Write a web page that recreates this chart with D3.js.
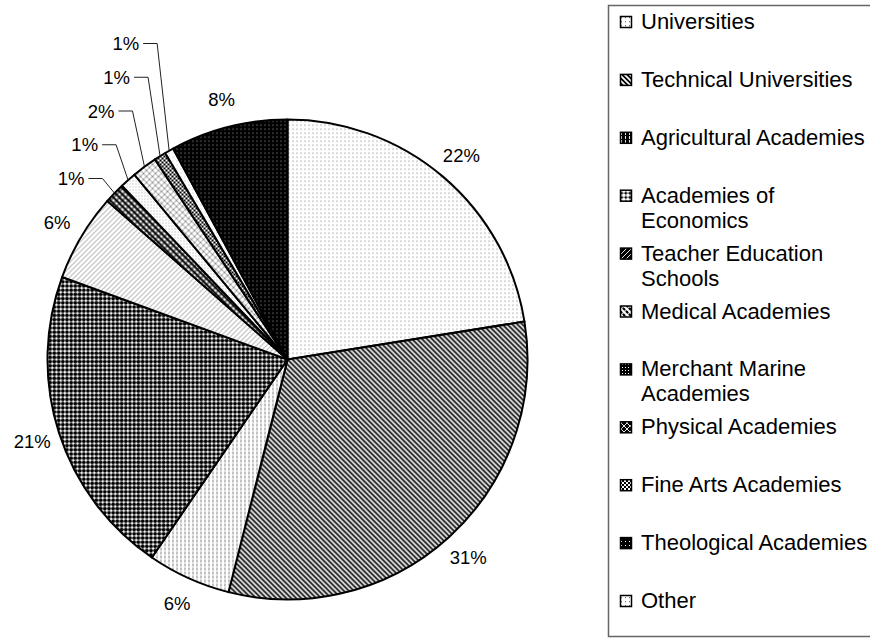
<!DOCTYPE html>
<html>
<head>
<meta charset="utf-8">
<script src="https://cdnjs.cloudflare.com/ajax/libs/d3/7.8.5/d3.min.js"></script>
<style>
  html, body { margin: 0; padding: 0; background: #fff; }
  svg { display: block; font-family: "Liberation Sans", Arial, Helvetica, sans-serif; }
</style>
</head>
<body>
<svg id="chart" width="870" height="638"></svg>
<script>
// ---- data ----
const categories = [
  "Universities",
  "Technical Universities",
  "Agricultural Academies",
  "Academies of Economics",
  "Teacher Education Schools",
  "Medical Academies",
  "Merchant Marine Academies",
  "Physical Academies",
  "Fine Arts Academies",
  "Theological Academies",
  "Other"
];
const values = [22.45, 31.45, 5.6, 21.0, 5.9, 1.4, 1.1, 1.7, 0.8, 0.6, 7.9];
const patternKeys = ["uni", "tech", "agri", "econ", "teach", "med", "mar", "phys", "fine", "theo", "other"];
const darkIcon = [false, true, true, true, true, true, true, true, true, true, false];

// ---- layout ----
const cx = 287.5, cy = 359.5, R = 240;
const svg = d3.select("#chart");
const defs = svg.append("defs");

function pat(id, w, h, bg, draw) {
  const p = defs.append("pattern").attr("id", id)
    .attr("patternUnits", "userSpaceOnUse").attr("width", w).attr("height", h);
  p.append("rect").attr("width", w).attr("height", h).attr("fill", bg);
  draw(p);
}
const drawers = {
  uni:   [4, 4, (p, fg) => p.append("rect").attr("x", 1).attr("y", 1).attr("width", 1).attr("height", 1.3).attr("fill", fg)],
  tech:  [5, 5, (p, fg) => p.append("path").attr("d", "M0,0L5,5M-1,4L1,6M4,-1L6,1").attr("stroke", fg).attr("stroke-width", 1.7)],
  agri:  [4, 4, (p, fg) => p.append("rect").attr("x", 1).attr("y", 0).attr("width", 0.9).attr("height", 3).attr("fill", fg)],
  econ:  [4.2, 4.2, (p, fg) => p.append("circle").attr("cx", 2.1).attr("cy", 2.1).attr("r", 1.9).attr("fill", fg)],
  teach: [5, 5, (p, fg) => p.append("path").attr("d", "M0,5L5,0M-1,1L1,-1M4,6L6,4").attr("stroke", fg).attr("stroke-width", 0.9)],
  med:   [6, 6, (p, fg) => {
            p.append("path").attr("d", "M0,0L6,6M-1,5L1,7M5,-1L7,1").attr("stroke", fg).attr("stroke-width", 2);
            p.append("path").attr("d", "M0,6L6,0M-1,1L1,-1M5,7L7,5").attr("stroke", fg).attr("stroke-width", 1.4).attr("opacity", 0.75);
          }],
  mar:   [3, 3, (p, fg) => p.append("rect").attr("x", 1).attr("y", 1).attr("width", 1).attr("height", 1).attr("fill", fg)],
  phys:  [6, 6, (p, fg) => p.append("path").attr("d", "M0,0L6,6M0,6L6,0").attr("stroke", fg).attr("stroke-width", 0.9)],
  fine:  [4, 4, (p, fg) => {
            p.append("rect").attr("x", 0).attr("y", 0).attr("width", 2).attr("height", 2).attr("fill", fg);
            p.append("rect").attr("x", 2).attr("y", 2).attr("width", 2).attr("height", 2).attr("fill", fg);
          }],
  theo:  [4, 4, (p, fg) => p.append("rect").attr("x", 1).attr("y", 1).attr("width", 1).attr("height", 1).attr("fill", fg)],
  other: [4, 4, (p, fg) => p.append("rect").attr("x", 1).attr("y", 1).attr("width", 1).attr("height", 1.2).attr("fill", fg)]
};
const sliceColors = {
  uni: ["#8a8a8a", "#fff"], tech: ["#000", "#fff"], agri: ["#777", "#fff"], econ: ["#000", "#fff"],
  teach: ["#8a8a8a", "#fff"], med: ["#000", "#fff"], mar: ["#aaa", "#fff"], phys: ["#8a8a8a", "#fff"],
  fine: ["#000", "#fff"], theo: ["#bbb", "#fff"], other: ["#9a9a9a", "#000"]
};
patternKeys.forEach((k, i) => {
  const [w, h, draw] = drawers[k];
  const [fg, bg] = sliceColors[k];
  pat("s_" + k, w, h, bg, p => draw(p, fg));
  if (darkIcon[i]) pat("i_" + k, w, h, "#000", p => draw(p, "#fff"));
  else pat("i_" + k, w, h, "#fff", p => draw(p, "#777"));
});

// ---- pie ----
const pie = d3.pie().sort(null).value(d => d).startAngle(0).endAngle(2 * Math.PI);
const arcs = pie(values);
const total = d3.sum(values);
const fmt = d3.format(".0%");
const arc = d3.arc().innerRadius(0).outerRadius(R);

const g = svg.append("g").attr("transform", `translate(${cx},${cy})`);
g.selectAll("path.slice").data(arcs).join("path")
  .attr("class", "slice")
  .attr("d", arc)
  .attr("fill", (d, i) => `url(#s_${patternKeys[i]})`)
  .attr("stroke", "#000")
  .attr("stroke-width", 2)
  .attr("stroke-linejoin", "round");

// ---- labels ----
const labelFont = 18.5;
const midA = d => (d.startAngle + d.endAngle) / 2;
const polar = (a, r) => [r * Math.sin(a), -r * Math.cos(a)];

const bigLabelR = R + 28;
let smallIdx = 0;
arcs.forEach((d, i) => {
  const txt = fmt(values[i] / total);
  const a = midA(d);
  if (values[i] >= 2) {
    const [x, y] = polar(a, bigLabelR);
    g.append("text").attr("x", x).attr("y", y)
      .attr("text-anchor", "middle").attr("dominant-baseline", "central")
      .attr("font-size", labelFont).attr("fill", "#000").text(txt);
  } else {
    const k = smallIdx++;
    const [ex, ey] = polar(a, R);
    const ly = -181 - 33.75 * k;
    const elbowX = ex - 12;
    g.append("path")
      .attr("d", `M${elbowX - 14},${ly}L${elbowX},${ly}L${ex},${ey}`)
      .attr("fill", "none").attr("stroke", "#222").attr("stroke-width", 1);
    g.append("text").attr("x", elbowX - 18).attr("y", ly)
      .attr("text-anchor", "end").attr("dominant-baseline", "central")
      .attr("font-size", labelFont).attr("fill", "#000").text(txt);
  }
});

// ---- legend ----
svg.append("rect").attr("x", 608.5).attr("y", 5.5).attr("width", 400).attr("height", 631)
  .attr("fill", "none").attr("stroke", "#666").attr("stroke-width", 1.5);

const legY = d3.scalePoint().domain(categories).range([29, 608]);
const legFont = 22, maxW = 232, lineH = 25;
const leg = svg.append("g");
categories.forEach((c, i) => {
  const by = legY(c);
  leg.append("rect").attr("x", 620.5).attr("y", by - 12.5).attr("width", 11).attr("height", 11)
    .attr("fill", `url(#i_${patternKeys[i]})`).attr("stroke", "#000").attr("stroke-width", 1.5);
  const t = leg.append("text").attr("x", 641).attr("y", by).attr("font-size", legFont).attr("fill", "#000");
  const words = c.split(" ");
  let line = [], lineNo = 0;
  let tspan = t.append("tspan").attr("x", 641).attr("y", by);
  words.forEach(w => {
    line.push(w);
    tspan.text(line.join(" "));
    if (tspan.node().getComputedTextLength() > maxW && line.length > 1) {
      line.pop();
      tspan.text(line.join(" "));
      line = [w];
      lineNo++;
      tspan = t.append("tspan").attr("x", 641).attr("y", by + lineNo * lineH).text(w);
    }
  });
});
</script>
</body>
</html>
